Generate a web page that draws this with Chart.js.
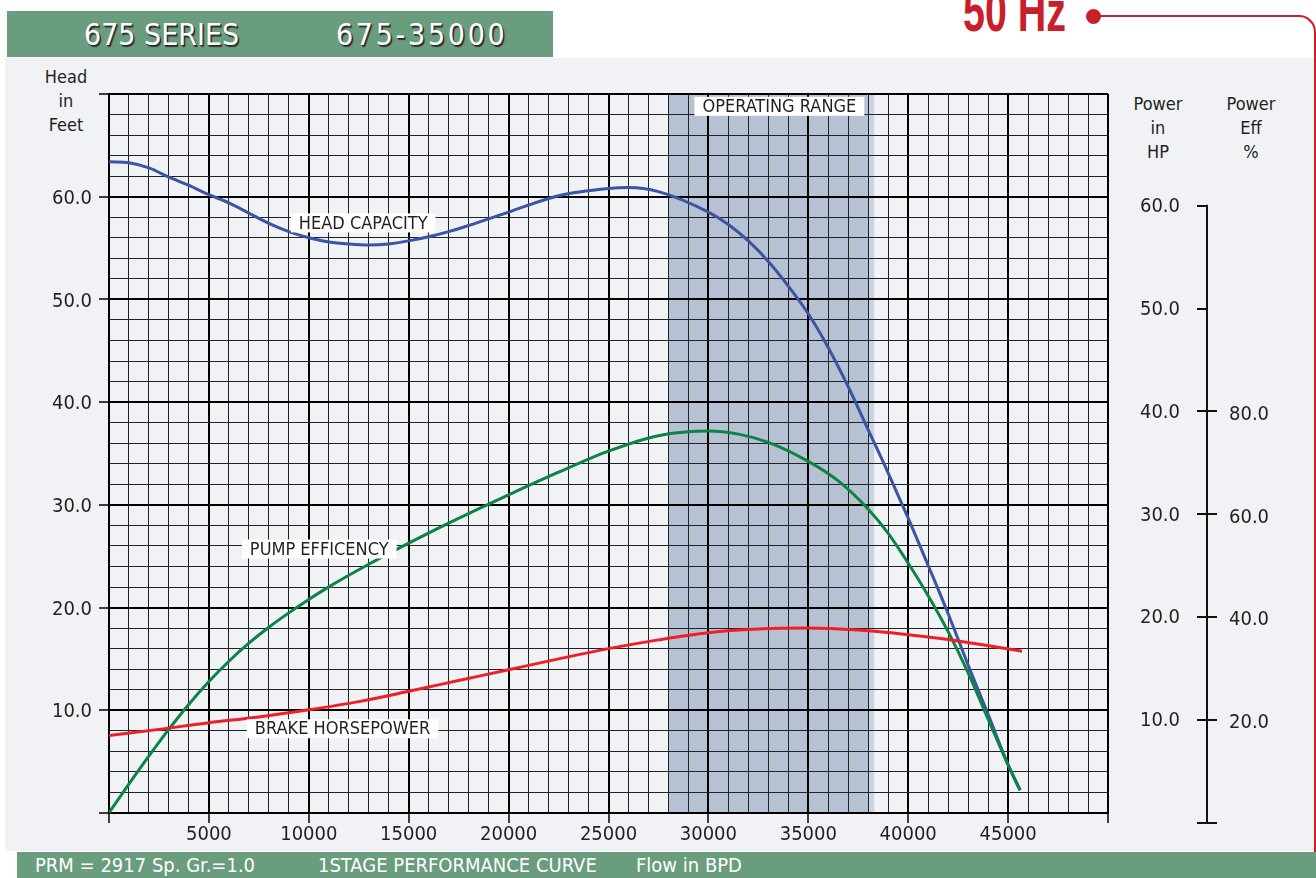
<!DOCTYPE html>
<html>
<head>
<meta charset="utf-8">
<title>675-35000 Performance Curve</title>
<script src="https://cdn.jsdelivr.net/npm/chart.js@4.4.1/dist/chart.umd.min.js"></script>
<style>
  html, body { margin: 0; padding: 0; }
  body {
    width: 1316px; height: 878px; position: relative; overflow: hidden; background: #ffffff;
    font-family: "DejaVu Sans Condensed", "DejaVu Sans", sans-serif; color: #231f20;
  }
  #panel { position: absolute; left: 5px; top: 58px; width: 1311px; height: 793px; background: #f1f2f6; }
  #hdr { position: absolute; left: 7px; top: 11px; width: 546px; height: 46px; background: #6a9c7e; }
  .hdrTxt {
    position: absolute; top: 9px; line-height: 30px; font-size: 30px; color: #ffffff; white-space: nowrap;
    text-shadow: 1px 1px 0 #2a2a2a, 1.5px 1.5px 1px #333;
  }
  #hz {
    position: absolute; left: 963px; top: -18px; font-family: "Liberation Sans", Arial, sans-serif;
    font-weight: bold; font-size: 58px; line-height: 58px; color: #c8202a; white-space: nowrap;
    transform: scaleX(0.68); transform-origin: 0 0;
  }
  #dot { position: absolute; left: 1086px; top: 9px; width: 15px; height: 15px; border-radius: 50%; background: #c8202a; }
  #wire {
    position: absolute; left: 1093px; top: 15px; width: 223px; height: 837px; box-sizing: border-box;
    border-top: 2.5px solid #c8202a; border-right: 2.5px solid #c8202a; border-top-right-radius: 17px;
  }
  .ttl { position: absolute; width: 90px; text-align: center; font-size: 18px; line-height: 24px; }
  #ftr { position: absolute; left: 17px; top: 852px; width: 1299px; height: 26px; background: #6a9c7e; }
  .ftrTxt { position: absolute; top: 3px; font-size: 20px; line-height: 20px; color: #ffffff; white-space: nowrap; }
  canvas { position: absolute; left: 0; top: 0; }
</style>
</head>
<body>
<div id="panel"></div>
<div id="hdr">
  <span class="hdrTxt" style="left:77px">675 SERIES</span>
  <span class="hdrTxt" style="left:329px; letter-spacing:2.7px">675-35000</span>
</div>
<div id="wire"></div>
<div id="dot"></div>
<div id="hz">50 Hz</div>
<div class="ttl" style="left:21px; top:65px">Head<br>in<br>Feet</div>
<div class="ttl" style="left:1113px; top:92px">Power<br>in<br>HP</div>
<div class="ttl" style="left:1206px; top:92px">Power<br>Eff<br>%</div>
<div id="ftr">
  <span class="ftrTxt" style="left:18px">PRM = 2917 Sp. Gr.=1.0</span>
  <span class="ftrTxt" style="left:301px">1STAGE PERFORMANCE CURVE</span>
  <span class="ftrTxt" style="left:619px">Flow in BPD</span>
</div>
<canvas id="curve" width="1316" height="878"></canvas>

<script>
// ---- Performance data (flow in BPD) ----
const flowHead = [0, 1000, 2000, 3000, 4000, 5000, 6000, 7000, 8000, 9000, 10000, 11000, 12000, 13000, 14000,
  15000, 16000, 17000, 18000, 20000, 22500, 25000, 26000, 27500, 30000, 31000, 32000, 33000, 34000, 35000,
  36000, 37000, 38000, 39000, 40000, 41000, 42000, 43000, 44000, 45000, 45600];
const headFt = [63.4, 63.3, 62.8, 61.9, 61.1, 60.2, 59.4, 58.4, 57.4, 56.6, 56.0, 55.6, 55.4, 55.3, 55.4,
  55.7, 56.1, 56.6, 57.2, 58.5, 60.1, 60.8, 60.9, 60.5, 58.5, 57.3, 55.7, 53.7, 51.3, 48.6,
  45.3, 41.5, 37.3, 33.1, 28.7, 24.1, 19.4, 14.4, 9.6, 4.7, 2.2];

const flowEff = [0, 1000, 2000, 3000, 4000, 5000, 6000, 7000, 8000, 9000, 10000, 11000, 13000, 15000, 17000,
  20000, 22500, 25000, 27500, 30000, 31500, 33000, 35000, 36500, 38000, 39000, 40000, 41000, 42000, 43000,
  44000, 45000, 45600];
const effPct = [2.0, 7.6, 13.05, 18.25, 23.1, 27.5, 31.45, 34.95, 38.05, 40.85, 43.45, 45.9, 50.3, 54.4, 58.3,
  63.8, 68.2, 72.3, 75.3, 76.2, 75.6, 74.0, 70.3, 66.5, 61.0, 56.3, 50.5, 44.2, 37.2, 29.2,
  20.2, 11.3, 6.4];

const flowHp = [0, 2500, 5000, 7500, 10000, 12500, 15000, 17500, 20000, 22500, 25000, 27500, 30000,
  32500, 35000, 37500, 40000, 42500, 45700];
const brakeHp = [8.5, 9.1, 9.75, 10.3, 11.0, 11.8, 12.8, 13.85, 14.9, 15.95, 16.95, 17.8, 18.5,
  18.85, 18.95, 18.75, 18.3, 17.7, 16.7];

// Operating range (BPD)
const operatingRange = [28000, 38000];
const operatingFringe = 38300;

// ---- Tick labels ----
const flowTicks = [5000, 10000, 15000, 20000, 25000, 30000, 35000, 40000, 45000];
const headTicks = [10, 20, 30, 40, 50, 60];
const hpTicks = [10, 20, 30, 40, 50, 60];
const effTicks = [20, 40, 60, 80];

// Curve captions (left edge of the caption box in flow units, centre on the head scale)
const captions = [
  { text: 'HEAD CAPACITY', flow: 9100, head: 57.45 },
  { text: 'PUMP EFFICENCY', flow: 6650, head: 25.7 },
  { text: 'BRAKE HORSEPOWER', flow: 6900, head: 8.2 },
  { text: 'OPERATING RANGE', flow: 29300, head: 68.8 }
];

const FONT = '"DejaVu Sans Condensed", "DejaVu Sans", sans-serif';
const INK = '#231f20';

const pairs = (xs, ys) => xs.map((x, i) => ({ x, y: ys[i] }));
const range = (from, to, step) => { const out = []; for (let v = from; v <= to; v += step) out.push(v); return out; };

// Shaded operating band, under the grid
const rangeShade = {
  id: 'rangeShade',
  beforeDraw(chart) {
    const { ctx, chartArea: a, scales: { x } } = chart;
    const x0 = x.getPixelForValue(operatingRange[0]);
    const x1 = x.getPixelForValue(operatingRange[1]);
    const x2 = x.getPixelForValue(operatingFringe);
    ctx.save();
    ctx.fillStyle = '#c9d3e2';
    ctx.fillRect(x1, a.top, x2 - x1, a.bottom - a.top);
    ctx.fillStyle = '#b6c2d4';
    ctx.fillRect(x0, a.top, x1 - x0, a.bottom - a.top);
    ctx.restore();
  }
};

// White caption boxes over the curves
const curveCaptions = {
  id: 'curveCaptions',
  afterDatasetsDraw(chart) {
    const { ctx, scales: { x, y } } = chart;
    ctx.save();
    ctx.font = '18px ' + FONT;
    ctx.textBaseline = 'middle';
    captions.forEach(c => {
      const left = x.getPixelForValue(c.flow);
      const cy = y.getPixelForValue(c.head);
      const w = ctx.measureText(c.text).width;
      ctx.fillStyle = '#ffffff';
      ctx.fillRect(left, cy - 9.5, w + 16, 19);
      ctx.fillStyle = INK;
      ctx.fillText(c.text, left + 8, cy + 1);
    });
    ctx.restore();
  }
};

// Power (HP) and efficiency (%) axis standing to the right of the grid
const powerAxis = {
  id: 'powerAxis',
  afterDraw(chart) {
    const { ctx, chartArea: a, scales: { yHp, yEff } } = chart;
    const ax = Math.round(a.right + 99);
    const seg = (x1, y1, x2, y2) => { ctx.beginPath(); ctx.moveTo(x1, y1); ctx.lineTo(x2, y2); ctx.stroke(); };
    ctx.save();
    ctx.strokeStyle = '#111';
    ctx.lineWidth = 2;
    const top = yHp.getPixelForValue(hpTicks[hpTicks.length - 1]);
    const bottom = yHp.getPixelForValue(0);
    seg(ax, top - 1, ax, bottom + 1);
    [0, ...hpTicks].forEach(v => { const py = Math.round(yHp.getPixelForValue(v)); seg(ax - 10, py, ax, py); });
    [0, ...effTicks].forEach(v => { const py = Math.round(yEff.getPixelForValue(v)); seg(ax, py, ax + 10, py); });
    ctx.font = '20px ' + FONT;
    ctx.fillStyle = INK;
    ctx.textBaseline = 'middle';
    ctx.textAlign = 'right';
    hpTicks.forEach(v => ctx.fillText(v.toFixed(1), ax - 27, yHp.getPixelForValue(v) + 1));
    ctx.textAlign = 'left';
    effTicks.forEach(v => ctx.fillText(v.toFixed(1), ax + 22, yEff.getPixelForValue(v) + 3));
    ctx.restore();
  }
};

const lineSet = (label, data, color, axis) => ({
  label, data, yAxisID: axis, borderColor: color, borderWidth: 3, pointRadius: 0,
  fill: false, cubicInterpolationMode: 'monotone'
});

new Chart(document.getElementById('curve'), {
  type: 'line',
  data: {
    datasets: [
      lineSet('Brake Horsepower', pairs(flowHp, brakeHp), '#ee1f27', 'yHp'),
      lineSet('Pump Efficiency', pairs(flowEff, effPct), '#0c8443', 'yEff'),
      lineSet('Head Capacity', pairs(flowHead, headFt), '#3a54a6', 'y')
    ]
  },
  options: {
    responsive: false,
    animation: false,
    events: [],
    layout: { padding: { left: 0, top: 94, right: 208, bottom: 0 } },
    plugins: { legend: { display: false }, tooltip: { enabled: false } },
    scales: {
      x: {
        type: 'linear', position: 'bottom', min: 0, max: 50000,
        afterBuildTicks: s => { s.ticks = range(0, 50000, 1000).map(value => ({ value })); },
        afterFit: s => { s.height = 65; },
        ticks: {
          autoSkip: false, maxRotation: 0, padding: 2, color: INK,
          font: { family: FONT, size: 20, lineHeight: 1 },
          callback: v => flowTicks.includes(v) ? String(v) : ''
        },
        grid: {
          color: c => (c.tick && c.tick.value % 5000 === 0) ? '#000' : '#222',
          lineWidth: c => (c.tick && c.tick.value % 5000 === 0) ? 2 : 1,
          tickLength: 10,
          tickColor: c => (c.tick && c.tick.value % 5000 === 0) ? '#000' : 'rgba(0,0,0,0)',
          tickWidth: 1.5
        },
        border: { display: true, color: '#000', width: 2 }
      },
      y: {
        type: 'linear', position: 'left', min: 0, max: 70,
        afterBuildTicks: s => { s.ticks = range(0, 70, 2).map(value => ({ value })); },
        afterFit: s => { s.width = 109; },
        ticks: {
          autoSkip: false, padding: 7, labelOffset: 2, color: INK,
          font: { family: FONT, size: 20, lineHeight: 1 },
          callback: v => headTicks.includes(v) ? v.toFixed(1) : ''
        },
        grid: {
          color: c => (c.tick && c.tick.value % 10 === 0) ? '#000' : '#222',
          lineWidth: c => (c.tick && c.tick.value % 10 === 0) ? 2 : 1,
          tickLength: 10,
          tickColor: c => (c.tick && c.tick.value % 10 === 0) ? '#000' : 'rgba(0,0,0,0)',
          tickWidth: 1.5
        },
        border: { display: true, color: '#000', width: 2 }
      },
      // Power axis: 0 HP sits 10 px below the grid floor, 60 HP a little under the 60 ft line
      yHp: { type: 'linear', display: false, min: 0.972, max: 70.86 },
      yEff: { type: 'linear', display: false, min: 1.944, max: 141.72 }
    }
  },
  plugins: [rangeShade, curveCaptions, powerAxis]
});
</script>
</body>
</html>
